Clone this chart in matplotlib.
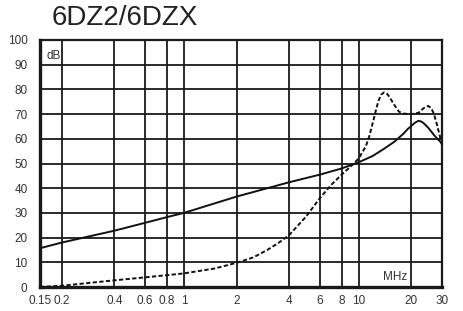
import matplotlib
matplotlib.use("Agg")
import matplotlib.pyplot as plt
from matplotlib import font_manager

title = "6DZ2/6DZX"
xticks = [0.15, 0.2, 0.4, 0.6, 0.8, 1, 2, 4, 6, 8, 10, 20, 30]
xticklabels = ["0.15", "0.2", "0.4", "0.6", "0.8", "1", "2", "4", "6", "8", "10", "20", "30"]
xgrid = [0.2, 0.4, 0.6, 0.8, 1, 2, 4, 6, 8, 10, 20]
yticks = [0, 10, 20, 30, 40, 50, 60, 70, 80, 90, 100]

solid_f = [0.15, 0.2, 0.4, 0.6, 0.8, 1, 2, 4, 6, 8, 10, 12, 14, 16, 18, 19, 20, 21, 22, 23,
           24, 25, 26, 27, 28, 29, 30]
solid_db = [15.7, 18, 22.8, 26, 28.3, 30, 36.6, 42.4, 45.5, 48, 50.5, 53, 56, 58.8, 62, 63.8, 65.2, 66.5, 67.3, 66.9,
            65.8, 64.5, 63, 61.5, 60.3, 59.2, 58]

dash_f = [0.15, 0.2, 0.3, 0.4, 0.6, 0.8, 1, 1.5, 2, 2.5, 3, 3.5, 4, 5, 6, 7, 8, 9, 10, 11,
          11.5, 12, 12.5, 13, 13.5, 14, 14.5, 15, 16, 17, 18, 20, 22, 23, 24, 25, 26, 27, 28, 29, 30]
dash_db = [0, 0.5, 1.8, 2.7, 3.9, 4.8, 5.5, 7.5, 9.8, 12, 15, 18, 21, 28.5, 36, 41.5, 45.5, 48.8, 52, 57,
           61, 66, 71, 75.5, 78, 78.8, 78.3, 77, 73.7, 71, 70.2, 70, 70.5, 71.8, 72.8, 73.3, 72.5, 70, 66, 61.8, 57.5]

names = {f.name for f in font_manager.fontManager.ttflist}
narrow = "Liberation Sans Narrow" if "Liberation Sans Narrow" in names else "Liberation Sans"

fig = plt.figure(figsize=(4.63, 3.11), dpi=100)
ax = fig.add_axes([40/463, 24/311, 402/463, 247/311])
ax.set_xscale("log")
ax.set_xlim(0.15, 30)
ax.set_ylim(0, 100)

gc = "#1a1a1a"
for x in xgrid:
    ax.axvline(x, color=gc, lw=1.3, zorder=1)
for y in yticks[1:-1]:
    ax.axhline(y, color=gc, lw=1.3, zorder=1)

ax.plot(solid_f, solid_db, color="#111111", lw=1.4, zorder=3)
ax.plot(dash_f, dash_db, color="#111111", lw=1.4, ls=(0, (2.2, 1.2)), zorder=3)

ax.set_xticks(xticks)
ax.set_xticklabels(xticklabels, fontname=narrow, fontsize=8.5, color="#333333")
ax.xaxis.set_minor_locator(matplotlib.ticker.NullLocator())
ax.set_yticks(yticks)
ax.set_yticklabels([str(v) for v in yticks], fontname=narrow, fontsize=8.5, color="#333333")
ax.tick_params(length=0, pad=6)
ax.tick_params(axis="y", pad=9)

for s in ["top", "right"]:
    ax.spines[s].set_linewidth(1.6)
    ax.spines[s].set_color(gc)
for s in ["bottom", "left"]:
    ax.spines[s].set_linewidth(2.4)
    ax.spines[s].set_color(gc)

ax.text(0.163, 93.5, "dB", fontname=narrow, fontsize=8.5, color="#333333", va="center", ha="left")
ax.text(19.0, 4, "MHz", fontname=narrow, fontsize=8.5, color="#333333", va="center", ha="right")

fig.text(52/463, 1 - 18/311, title, fontname="Liberation Sans", fontsize=20, color="#222222",
         va="center", ha="left")

fig.savefig("out.png", dpi=100)
